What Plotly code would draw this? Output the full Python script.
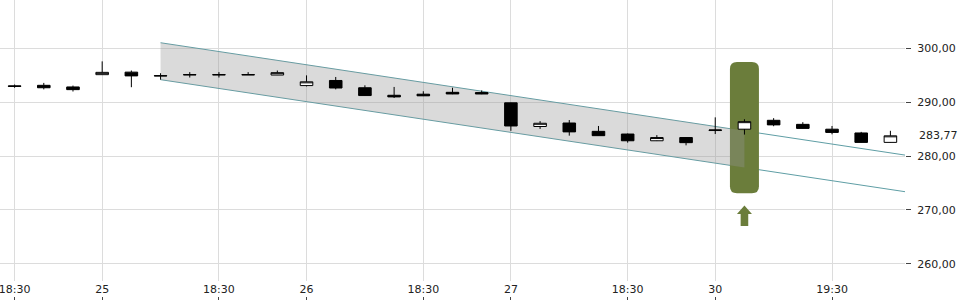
import plotly.graph_objects as go

# ---- data ----
idx = list(range(31))
open_ = [293.05, 293.15, 292.85, 295.13, 295.6, 294.95, 295.15, 295.15, 295.15, 295.06,
         293.1, 294.05, 292.7, 291.3, 291.5, 291.85, 291.8, 289.9, 285.5, 286.15,
         284.6, 284.1, 282.85, 283.45, 284.75, 285.0, 286.65, 285.9, 285.0, 284.3, 282.55]
high = [293.3, 293.6, 293.1, 297.6, 295.9, 295.4, 295.6, 295.6, 295.6, 295.9,
        295.0, 294.7, 293.15, 292.85, 292.05, 292.7, 292.2, 289.95, 286.5, 286.7,
        285.6, 284.2, 283.9, 283.5, 287.2, 286.85, 287.05, 286.3, 285.6, 284.5, 284.7]
low = [292.7, 292.4, 292.0, 295.1, 292.8, 294.2, 294.6, 294.6, 295.1, 295.05,
       292.95, 292.4, 291.2, 290.8, 291.15, 291.5, 291.5, 284.7, 285.05, 283.8,
       283.75, 282.5, 282.8, 282.0, 284.1, 284.0, 285.55, 285.1, 284.05, 282.5, 282.5]
close = [292.95, 292.7, 292.35, 295.56, 294.9, 294.9, 295.1, 295.1, 295.1, 295.5,
         293.8, 292.65, 291.25, 291.0, 291.2, 291.55, 291.55, 285.6, 286.1, 284.5,
         283.8, 282.85, 283.45, 282.5, 284.85, 286.4, 285.8, 285.15, 284.4, 282.55, 283.77]

tick_pos = [0, 3, 7, 10, 14, 17, 21, 24, 28]
tick_text = ["18:30", "25", "18:30", "26", "18:30", "27", "18:30", "30", "19:30"]

# trend channel (start/end index and values)
chan_x = [5, 30.5]
chan_upper = [301.06, 280.19]
chan_lower = [294.2, 273.39]
fill_end_x = 25          # shaded band stops at highlighted candle
highlight_idx = 25
highlight_y = [273.1, 297.5]
arrow_y = 270

y_range = [256.8, 309.0]
x_range = [-0.5, 30.5]

GREEN = "#6b7d3b"
TEAL = "#5f9ea5"
GRID = "#dcdcdc"
PLOT_H = 281
PAPER_H = 296


def chan_at(vals, x):
    return vals[0] + (vals[1] - vals[0]) * (x - chan_x[0]) / (chan_x[1] - chan_x[0])


fig = go.Figure()

fig.add_trace(go.Candlestick(
    x=idx, open=open_, high=high, low=low, close=close,
    increasing=dict(fillcolor="white", line=dict(color="black", width=1)),
    decreasing=dict(fillcolor="black", line=dict(color="black", width=1)),
    whiskerwidth=0, showlegend=False, hoverinfo="x+y"))

# invisible trace for the lower tick axis
fig.add_trace(go.Scatter(x=[x_range[0]], y=[y_range[0]], xaxis="x2", mode="markers",
                         marker=dict(opacity=0), hoverinfo="skip", showlegend=False))

shapes = []
for vals in (chan_upper, chan_lower):
    shapes.append(dict(type="line", xref="x", yref="y", x0=chan_x[0], y0=vals[0],
                       x1=chan_x[1], y1=vals[1], line=dict(color=TEAL, width=1),
                       layer="between"))

# rounded highlight box
hw, r = 14.5, 7
ymid = (highlight_y[0] + highlight_y[1]) / 2
ph = (highlight_y[1] - highlight_y[0]) / 2 * (PLOT_H / (y_range[1] - y_range[0]))
box_path = (f"M {-hw},{-ph + r} L {-hw},{ph - r} Q {-hw},{ph} {-hw + r},{ph} "
            f"L {hw - r},{ph} Q {hw},{ph} {hw},{ph - r} L {hw},{-ph + r} "
            f"Q {hw},{-ph} {hw - r},{-ph} L {-hw + r},{-ph} Q {-hw},{-ph} {-hw},{-ph + r} Z")
shapes.append(dict(type="path", xref="x", yref="y", xsizemode="pixel", ysizemode="pixel",
                   xanchor=highlight_idx, yanchor=ymid, path=box_path,
                   fillcolor=GREEN, line=dict(width=0), layer="between"))

# shaded band (semi-transparent, over the box, under candles)
fx0, fx1 = chan_x[0], fill_end_x
band_path = (f"M {fx0},{chan_at(chan_lower, fx0)} L {fx1},{chan_at(chan_lower, fx1)} "
             f"L {fx1},{chan_at(chan_upper, fx1)} L {fx0},{chan_at(chan_upper, fx0)} Z")
shapes.append(dict(type="path", xref="x", yref="y", path=band_path,
                   fillcolor="rgba(150,150,150,0.35)", line=dict(width=0), layer="between"))

# arrow under the highlight
arrow_path = "M 0,4.5 L 7.5,-4 L 3.8,-4 L 3.8,-16 L -3.8,-16 L -3.8,-4 L -7.5,-4 Z"
shapes.append(dict(type="path", xref="x", yref="y", xsizemode="pixel", ysizemode="pixel",
                   xanchor=highlight_idx, yanchor=arrow_y, path=arrow_path,
                   fillcolor=GREEN, line=dict(width=0), layer="above"))

last_txt = f"{close[-1]:.2f}".replace(".", ",")

fig.update_layout(
    width=960, height=300,
    margin=dict(l=0, r=55, t=0, b=4),
    paper_bgcolor="white", plot_bgcolor="white",
    separators=",.",
    boxgap=0.57, boxgroupgap=0,
    showlegend=False,
    shapes=shapes,
    font=dict(family="DejaVu Sans", size=11, color="#222"),
    xaxis=dict(range=x_range, tickmode="array", tickvals=tick_pos, ticktext=tick_text,
               showgrid=True, gridcolor=GRID, gridwidth=1, zeroline=False,
               showline=False, ticks="", rangeslider=dict(visible=False),
               ticklabeloverflow="allow",
               tickfont=dict(family="DejaVu Sans", size=11, color="#222"),
               fixedrange=True),
    xaxis2=dict(range=x_range, overlaying="x", anchor="free", position=0, side="bottom",
                tickmode="array", tickvals=tick_pos, showticklabels=False,
                ticks="outside", ticklen=4, tickcolor="#444", showgrid=False,
                zeroline=False, showline=False),
    yaxis=dict(range=y_range, side="right", domain=[(PAPER_H - PLOT_H) / PAPER_H, 1],
               tick0=260, dtick=10, tickformat=".2f", showgrid=True, gridcolor=GRID,
               zeroline=False, showline=False, ticks="outside", ticklen=5,
               ticklabelstandoff=4,
               tickcolor="#444", tickfont=dict(size=11, color="#222")),
    annotations=[dict(xref="paper", yref="y", x=1, y=close[-1], text=last_txt,
                      showarrow=False, xanchor="left", yanchor="middle", xshift=12,
                      font=dict(size=11, color="#222"))],
)

fig.write_html("out.html")
